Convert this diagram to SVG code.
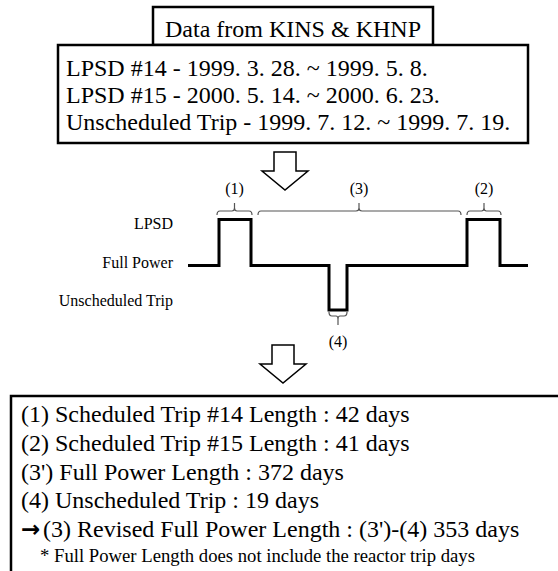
<svg xmlns="http://www.w3.org/2000/svg" width="558" height="571" viewBox="0 0 558 571">
<style>
.box{fill:#fff;stroke:#000;stroke-width:2.5}
.t24{font-family:"Liberation Serif","Times New Roman",serif;font-size:24px;fill:#000}
.t16{font-family:"Liberation Serif","Times New Roman",serif;font-size:16px;fill:#000}
.t19{font-family:"Liberation Serif","Times New Roman",serif;font-size:18.7px;fill:#000}
.sym{font-family:"DejaVu Sans",sans-serif;font-weight:bold;font-size:23px}
.arrow{fill:#fff;stroke:#000;stroke-width:1.5;stroke-linejoin:miter}
.brace{fill:none;stroke:#555;stroke-width:1.2}
.trace{fill:none;stroke:#000;stroke-width:3;stroke-linejoin:miter}
</style>
<rect width="558" height="571" fill="#fff"/>
<g id="header">
<rect class="box" x="153" y="7" width="280" height="38"/>
<text class="t24" x="293" y="37" text-anchor="middle">Data from KINS &amp; KHNP</text>
</g>
<g id="data">
<rect class="box" x="58" y="45" width="470" height="98"/>
<text class="t24" x="66" y="76">LPSD #14 - 1999. 3. 28. ~ 1999. 5. 8.</text>
<text class="t24" x="66" y="103">LPSD #15 - 2000. 5. 14. ~ 2000. 6. 23.</text>
<text class="t24" x="66" y="130">Unscheduled Trip - 1999. 7. 12. ~ 1999. 7. 19.</text>
</g>
<g id="connectors">
<path class="arrow" d="M274 152 H296 V171 H308 L285 190 L262 171 H274 Z"/>
<path class="arrow" d="M272 345 H294 V364 H306 L283 383 L260 364 H272 Z"/>
</g>
<g id="timeline">
<text class="t16" x="173" y="229" text-anchor="end">LPSD</text>
<text class="t16" x="173" y="268" text-anchor="end">Full Power</text>
<text class="t16" x="173" y="306" text-anchor="end">Unscheduled Trip</text>
<path class="trace" d="M188 265.5 H219 V219.5 H251 V265.5 H329 V310 H347 V265.5 H467 V219.5 H500 V265.5 H528"/>
<path class="brace" d="M217 215 Q217 211 220 211 H232 Q234.5 211 234.5 208 V203 M234.5 208 Q234.5 211 237 211 H249 Q252 211 252 215"/>
<path class="brace" d="M258 215 Q258 211 261 211 H356 Q359 211 359 208 V203 M359 208 Q359 211 362 211 H458 Q461 211 461 215"/>
<path class="brace" d="M467 215 Q467 211 470 211 H481.5 Q484 211 484 208 V203 M484 208 Q484 211 486.5 211 H498 Q501 211 501 215"/>
<path class="brace" d="M329 312 Q329 316 332 316 H336 Q338 316 338 319 V325 M338 319 Q338 316 340 316 H344 Q347 316 347 312"/>
<text class="t16" x="234.5" y="194" text-anchor="middle">(1)</text>
<text class="t16" x="359" y="194" text-anchor="middle">(3)</text>
<text class="t16" x="484" y="194" text-anchor="middle">(2)</text>
<text class="t16" x="338" y="347" text-anchor="middle">(4)</text>
</g>
<g id="result">
<rect class="box" x="11" y="396" width="560" height="190"/>
<text class="t24" x="21" y="422">(1) Scheduled Trip #14 Length : 42 days</text>
<text class="t24" x="21" y="451">(2) Scheduled Trip #15 Length : 41 days</text>
<text class="t24" x="21" y="480">(3') Full Power Length : 372 days</text>
<text class="t24" x="21" y="508">(4) Unscheduled Trip : 19 days</text>
<text class="t24" x="21" y="537"><tspan class="sym">→</tspan><tspan x="43">(3) Revised Full Power Length : (3')-(4) 353 days</tspan></text>
<text class="t19" x="40" y="562">* Full Power Length does not include the reactor trip days</text>
</g>
</svg>
